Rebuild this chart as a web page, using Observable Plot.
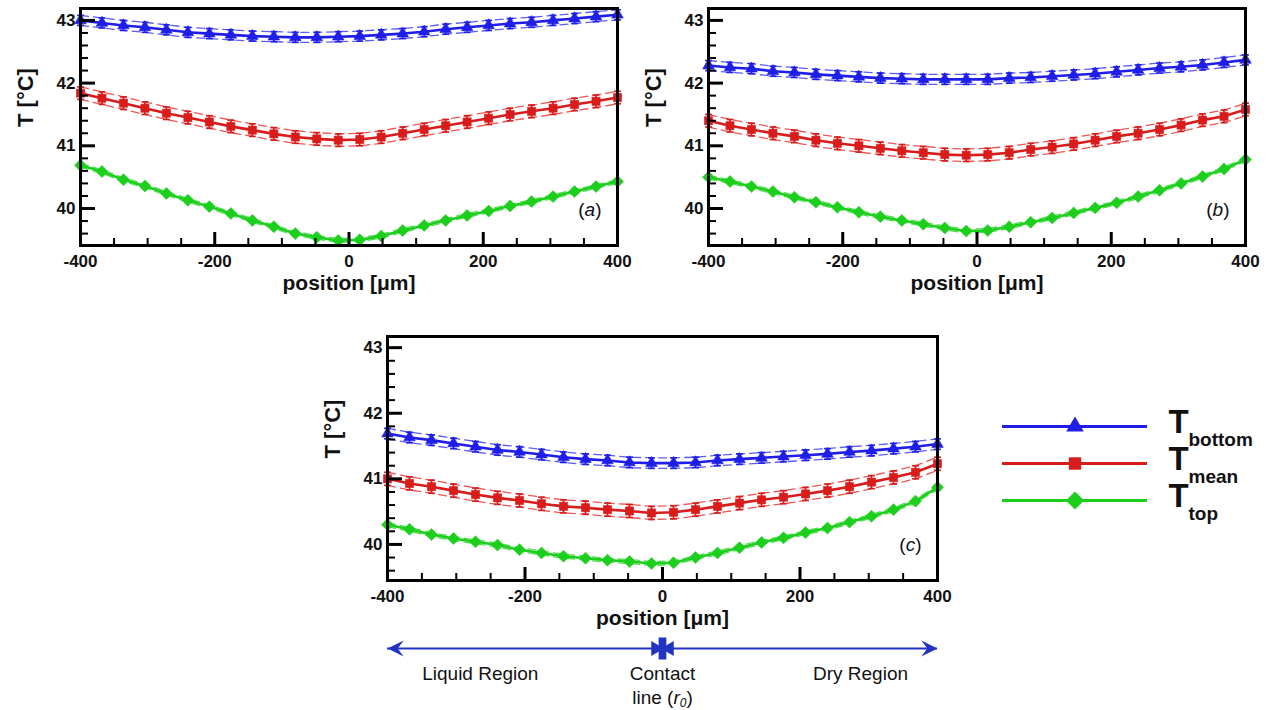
<!DOCTYPE html>
<html><head><meta charset="utf-8">
<script src="https://cdn.jsdelivr.net/npm/d3@7"></script>
<script src="https://cdn.jsdelivr.net/npm/@observablehq/plot@0.6"></script>
<style>
body{margin:0;background:#fff;}
#root{position:relative;width:1270px;height:710px;overflow:hidden;background:#fff;font-family:"Liberation Sans",Arial,sans-serif;}
.box{position:absolute;overflow:visible;}
</style></head><body><div id="root"></div>
<script>
// ---------------- data ----------------
const positions = [-400,-368,-336,-304,-272,-240,-208,-176,-144,-112,-80,-48,-16,16,48,80,112,144,176,208,240,272,304,336,368,400];
const seriesNames = ["bottom","mean","top"];
const seriesColors = ["#1e1ee8","#d81c1c","#1ccf1c"];
const bandColors = ["#5c5cf5","#ee5555","#55dd55"];
const seriesSymbols = ["triangle","square","diamond2"];
const seriesErr = [0.08, 0.10, 0.03];

const panelA_bottom = [43.00,42.96,42.92,42.89,42.85,42.81,42.79,42.77,42.75,42.74,42.73,42.73,42.74,42.75,42.77,42.79,42.82,42.86,42.89,42.92,42.95,42.97,43.00,43.03,43.06,43.09];
const panelA_mean   = [41.84,41.76,41.68,41.60,41.52,41.45,41.38,41.31,41.25,41.19,41.14,41.11,41.09,41.10,41.14,41.20,41.26,41.32,41.38,41.44,41.50,41.55,41.60,41.66,41.71,41.77];
const panelA_top    = [40.69,40.59,40.46,40.36,40.24,40.13,40.03,39.92,39.81,39.71,39.60,39.54,39.49,39.50,39.56,39.65,39.73,39.81,39.89,39.96,40.04,40.11,40.19,40.27,40.35,40.43];

const panelB_bottom = [42.28,42.25,42.23,42.19,42.17,42.14,42.12,42.10,42.08,42.07,42.06,42.06,42.06,42.06,42.08,42.09,42.11,42.13,42.15,42.18,42.21,42.24,42.26,42.29,42.33,42.37];
const panelB_mean   = [41.40,41.32,41.26,41.20,41.15,41.09,41.04,41.00,40.96,40.92,40.89,40.86,40.85,40.86,40.89,40.94,40.98,41.03,41.09,41.15,41.20,41.26,41.33,41.41,41.47,41.58];
const panelB_top    = [40.50,40.43,40.35,40.27,40.18,40.10,40.02,39.94,39.87,39.81,39.75,39.69,39.64,39.65,39.71,39.78,39.85,39.93,40.01,40.09,40.19,40.29,40.40,40.51,40.63,40.78];

const panelC_bottom = [41.69,41.63,41.59,41.54,41.49,41.44,41.41,41.37,41.33,41.30,41.28,41.25,41.24,41.24,41.25,41.28,41.30,41.32,41.34,41.36,41.38,41.41,41.43,41.46,41.49,41.53];
const panelC_mean   = [41.00,40.93,40.88,40.82,40.76,40.71,40.67,40.62,40.58,40.56,40.53,40.51,40.48,40.49,40.53,40.58,40.63,40.68,40.72,40.77,40.82,40.88,40.95,41.02,41.10,41.23];
const panelC_top    = [40.30,40.23,40.15,40.09,40.04,39.99,39.92,39.87,39.82,39.79,39.76,39.74,39.71,39.72,39.80,39.87,39.95,40.03,40.10,40.18,40.25,40.34,40.43,40.53,40.66,40.87];

const xMajorTicks = [-400,-200,0,200,400];
const xMinorTicks = [-350,-300,-250,-150,-100,-50,50,100,150,250,300,350];
const yMajorTicks = [40,41,42,43];
const yMinorTicks = [39.6,39.8,40.2,40.4,40.6,40.8,41.2,41.4,41.6,41.8,42.2,42.4,42.6,42.8];
const xLabel = "position [μm]";
const yLabel = "T [°C]";
const legendSymbol = "T";
const regionLabels = ["Liquid Region","Contact\nline (r₀)","Dry Region"];
const regionPositions = [-265, 0, 288];
const annColor = "#2233c4";

// ---------------- helpers ----------------
const FONT = "Liberation Sans, Arial, Helvetica, sans-serif";
const capSymbol = {draw(ctx, size){ const r = Math.sqrt(size/Math.PI); ctx.moveTo(-r,0); ctx.lineTo(r,0); }};
const arrowHeadSymbol = {draw(ctx, size){ const r = Math.sqrt(size/Math.PI);
  ctx.moveTo(0,0); ctx.lineTo(0.95*r,1.9*r); ctx.lineTo(0,1.2*r); ctx.lineTo(-0.95*r,1.9*r); ctx.closePath(); }};
const barSymbol = {draw(ctx, size){ const r = Math.sqrt(size/Math.PI); ctx.rect(-0.35*r,-r,0.7*r,2*r); }};

function place(node, left, top, width, height){
  const d = document.createElement("div");
  d.className = "box";
  d.style.left = left+"px"; d.style.top = top+"px"; d.style.width = width+"px"; d.style.height = height+"px";
  d.appendChild(node);
  document.getElementById("root").appendChild(d);
}

function makePanel(values, letter, box){
  const {left, top, width, height, ml, mr, mt, mb, yDomain} = box;
  const fw = width - ml - mr, fh = height - mt - mb;
  const marks = [];
  const sizes = [4.3, 4.6, 5.4];
  values.forEach((arr, s) => {
    const rows = positions.map((x, i) => ({x, v: arr[i], lo: arr[i] - seriesErr[s], hi: arr[i] + seriesErr[s]}));
    const c = seriesColors[s], bc = bandColors[s];
    marks.push(
      Plot.line(rows, {x: "x", y: "hi", stroke: bc, strokeWidth: 1.3, strokeDasharray: "8,5"}),
      Plot.line(rows, {x: "x", y: "lo", stroke: bc, strokeWidth: 1.3, strokeDasharray: "8,5"}),
      Plot.ruleX(rows, {x: "x", y1: "lo", y2: "hi", stroke: c, strokeWidth: 1.7}),
      Plot.dot(rows, {x: "x", y: "hi", symbol: capSymbol, r: 3.4, fill: "none", stroke: c, strokeWidth: 1.7}),
      Plot.dot(rows, {x: "x", y: "lo", symbol: capSymbol, r: 3.4, fill: "none", stroke: c, strokeWidth: 1.7}),
      Plot.line(rows, {x: "x", y: "v", stroke: c, strokeWidth: 2.6}),
      Plot.dot(rows, {x: "x", y: "v", symbol: seriesSymbols[s], r: sizes[s], fill: c, stroke: c, strokeWidth: 0.6})
    );
  });
  marks.push(
    Plot.tickX(xMinorTicks, {x: d => d, insetTop: fh - 7, strokeWidth: 2}),
    Plot.tickX(xMajorTicks, {x: d => d, insetTop: fh - 13, strokeWidth: 3}),
    Plot.tickY(yMinorTicks, {y: d => d, insetRight: fw - 8, strokeWidth: 2}),
    Plot.tickY(yMajorTicks, {y: d => d, insetRight: fw - 15, strokeWidth: 3}),
    Plot.frame({stroke: "black", strokeWidth: 3}),
    Plot.axisX({ticks: xMajorTicks, tickSize: 0, tickPadding: 9, tickFormat: d => String(d), label: null, fontSize: 17, fontWeight: "bold", fill: "#111"}),
    Plot.axisY({ticks: yMajorTicks, tickSize: 0, tickPadding: 5, tickFormat: d => String(d), label: null, fontSize: 17, fontWeight: "bold", fill: "#111"}),
    Plot.text([xLabel], {text: d => d, frameAnchor: "bottom", dy: 44, fontSize: 21, fontWeight: "bold", fill: "#111"}),
    Plot.text([yLabel], {text: d => d, frameAnchor: "left", rotate: -90, dx: -55, fontSize: 22, fontWeight: "bold", fill: "#111"}),
    Plot.text([`(${letter})`], {text: d => d, frameAnchor: "bottom-right", dx: -16, dy: -30, fontSize: 19, textAnchor: "end", fill: "#111"})
  );
  const svg = Plot.plot({
    width, height, marginLeft: ml, marginRight: mr, marginTop: mt, marginBottom: mb,
    x: {domain: [-400, 400]}, y: {domain: yDomain},
    style: {fontFamily: FONT, background: "transparent", color: "black", overflow: "visible"},
    marks
  });
  svg.querySelectorAll("text").forEach(t => {
    if (t.textContent === `(${letter})`) t.innerHTML = `(<tspan font-style="italic">${letter}</tspan>)`;
  });
  place(svg, left, top, width, height);
}

makePanel([panelA_bottom, panelA_mean, panelA_top], "a", {left: 0, top: 0, width: 640, height: 300, ml: 80, mr: 23, mt: 8, mb: 55, yDomain: [39.41, 43.19]});
makePanel([panelB_bottom, panelB_mean, panelB_top], "b", {left: 630, top: 0, width: 640, height: 300, ml: 78, mr: 25, mt: 8, mb: 55, yDomain: [39.41, 43.19]});
makePanel([panelC_bottom, panelC_mean, panelC_top], "c", {left: 310, top: 320, width: 660, height: 320, ml: 77, mr: 33, mt: 16, mb: 60, yDomain: [39.45, 43.17]});

// ---------------- legend ----------------
const legendRows = seriesNames.map((name, i) => ({name, color: seriesColors[i], symbol: seriesSymbols[i], r: [6.5, 7, 8.2][i]}));
const legendSvg = Plot.plot({
  width: 290, height: 140, margin: 0,
  x: {domain: [0, 1], range: [22, 167], axis: null},
  y: {type: "point", domain: seriesNames, range: [30, 105], padding: 0, axis: null},
  color: {type: "identity"}, symbol: {type: "identity"}, r: {type: "identity"},
  style: {fontFamily: FONT, background: "transparent", overflow: "visible"},
  marks: [
    Plot.ruleY(legendRows, {y: "name", x1: 0, x2: 1, stroke: "color", strokeWidth: 3}),
    Plot.dot(legendRows, {x: 0.5, y: "name", symbol: "symbol", fill: "color", r: "r"}),
    Plot.text(legendRows, {x: 1, y: "name", text: () => legendSymbol, dx: 21, dy: -4, textAnchor: "start", fontSize: 33, fontWeight: "bold", fill: "#111"}),
    Plot.text(legendRows, {x: 1, y: "name", text: "name", dx: 41, dy: 13, textAnchor: "start", fontSize: 19, fontWeight: "bold", fill: "#111"})
  ]
});
place(legendSvg, 980, 395, 290, 140);

// ---------------- region annotation ----------------
const regions = regionLabels.map((label, i) => ({label, x: regionPositions[i]}));
const arrowEnds = [{x: -400, rotate: -90}, {x: 400, rotate: 90}];
const annSvg = Plot.plot({
  width: 660, height: 80, margin: 0,
  x: {domain: [-400, 400], range: [77, 627], axis: null},
  y: {domain: [0, 1], range: [18, 60], axis: null},
  style: {fontFamily: FONT, background: "transparent", overflow: "visible"},
  marks: [
    Plot.ruleY([0], {y: d => d, x1: -400, x2: 400, stroke: annColor, strokeWidth: 2.2}),
    Plot.dot(arrowEnds, {x: "x", y: 0, symbol: arrowHeadSymbol, rotate: "rotate", r: 8.5, fill: annColor, stroke: "none"}),
    Plot.dot([0], {x: d => d, y: 0, symbol: "triangle", rotate: 90, r: 5.5, dx: -7, fill: annColor}),
    Plot.dot([0], {x: d => d, y: 0, symbol: "triangle", rotate: -90, r: 5.5, dx: 7, fill: annColor}),
    Plot.dot([0], {x: d => d, y: 0, symbol: barSymbol, r: 11, fill: annColor, stroke: "none"}),
    Plot.text(regions, {x: "x", text: "label", frameAnchor: "top", lineAnchor: "top", dy: 32, fontSize: 19, lineHeight: 1.28, fill: "#111"})
  ]
});
annSvg.querySelectorAll("tspan").forEach(t => {
  if (t.textContent === "line (r₀)") t.innerHTML = 'line (<tspan font-style="italic">r</tspan><tspan font-style="italic" font-size="12" dy="3">0</tspan><tspan dy="-3">)</tspan>';
});
place(annSvg, 310, 630, 660, 80);
</script>
</body></html>
